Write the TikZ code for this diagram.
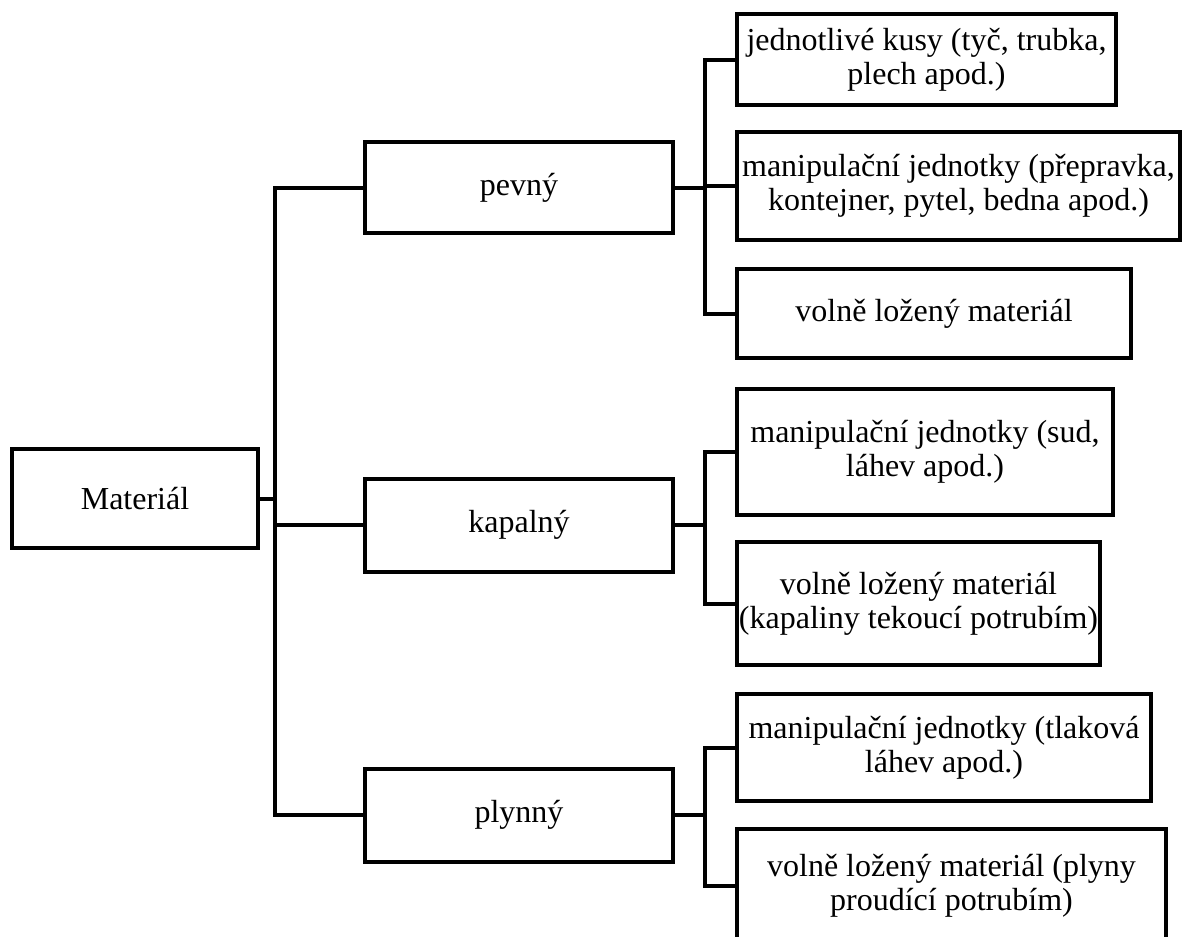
\documentclass[tikz,border=0pt]{standalone}
\usepackage{fontspec}
\setmainfont{Liberation Serif}
\begin{document}
\begin{tikzpicture}[x=1pt,y=-1pt,
  every node/.style={font=\fontsize{32}{34}\selectfont, align=center, inner sep=0pt},
  box/.style={draw, line width=4pt, rectangle},
  link/.style={line width=4pt}]
\clip (0,0) rectangle (1184,937);
\fill[white] (0,0) rectangle (1184,937);

% root and categories
\node[box, minimum width=246pt, minimum height=99pt] (mat) at (135,498.5) {Materiál};
\node[box, minimum width=308pt, minimum height=91pt] (pev) at (519,187.5) {pevný};
\node[box, minimum width=308pt, minimum height=93pt] (kap) at (519,525) {kapalný};
\node[box, minimum width=308pt, minimum height=93pt] (ply) at (519,815) {plynný};

% solid materials
\node[box, minimum width=379pt, minimum height=91pt] (p1) at (926.5,59.5) {jednotlivé kusy (tyč, trubka,\\plech apod.)};
\node[box, minimum width=443pt, minimum height=108pt] (p2) at (958.5,186) {manipulační jednotky (přepravka,\\kontejner, pytel, bedna apod.)};
\node[box, minimum width=394pt, minimum height=89pt] (p3) at (934,313.5) {volně ložený materiál};

% liquids
\node[box, minimum width=376pt, minimum height=126pt] (k1) at (925,452) {manipulační jednotky (sud,\\láhev apod.)};
\node[box, minimum width=363pt, minimum height=123pt] (k2) at (918.5,603.5) {volně ložený materiál\\(kapaliny tekoucí potrubím)};

% gases
\node[box, minimum width=414pt, minimum height=107pt] (g1) at (944,747.5) {manipulační jednotky (tlaková\\láhev apod.)};
\node[box, minimum width=429pt, minimum height=114pt] (g2) at (951.5,886) {volně ložený materiál (plyny\\proudící potrubím)};

% spines
\coordinate (s) at (275,0);
\coordinate (c) at (705,0);

\draw[link] (mat.east) -- (mat.east -| s);
\draw[link] (pev.west) -| (s |- ply.west) -- (ply.west);
\draw[link] (s |- kap.west) -- (kap.west);

\draw[link] (pev.east) -- (pev.east -| c);
\draw[link] (p1.west) -| (c |- p3.west) -- (p3.west);
\draw[link] (c |- p2.west) -- (p2.west);

\draw[link] (kap.east) -- (kap.east -| c);
\draw[link] (k1.west) -| (c |- k2.west) -- (k2.west);

\draw[link] (ply.east) -- (ply.east -| c);
\draw[link] (g1.west) -| (c |- g2.west) -- (g2.west);
\end{tikzpicture}
\end{document}
